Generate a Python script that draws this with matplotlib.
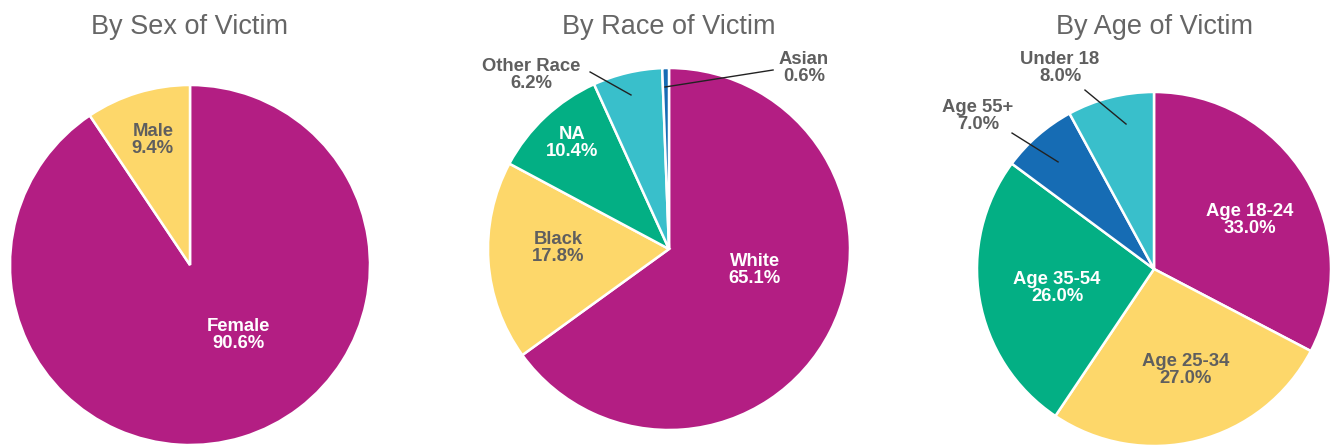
import matplotlib.pyplot as plt

plt.rcParams['font.family'] = ['Liberation Sans', 'DejaVu Sans']

W, H = 1335, 446

# data
sex_labels = ["Female", "Male"]
sex_values = [90.6, 9.4]

race_labels = ["White", "Black", "NA", "Other Race", "Asian"]
race_values = [65.1, 17.8, 10.4, 6.2, 0.6]

age_labels = ["Age 18-24", "Age 25-34", "Age 35-54", "Age 55+", "Under 18"]
age_values = [33.0, 27.0, 26.0, 7.0, 8.0]

MAGENTA = "#B31E83"
YELLOW = "#FDD76A"
GREEN = "#03AF84"
TEAL = "#39BFCB"
BLUE = "#166CB4"
GRAY = "#5F5F5F"

# label placement in pie units (radius = 1): text pos, leader line (start, end) or None
sex_pos = [((0.267, -0.389), None), ((-0.206, 0.694), None)]
race_pos = [((0.475, -0.116), None),
            ((-0.613, 0.006), None),
            ((-0.536, 0.586), None),
            ((-0.762, 0.961), ((-0.436, 0.978), (-0.21, 0.851))),
            ((0.746, 1.0), ((0.575, 0.989), (-0.022, 0.895)))]
age_pos = [((0.542, 0.277), None),
           ((0.181, -0.571), None),
           ((-0.548, -0.107), None),
           ((-0.994, 0.864), ((-0.802, 0.768), (-0.542, 0.605))),
           ((-0.531, 1.136), ((-0.39, 1.011), (-0.158, 0.819)))]

charts = [
    ("By Sex of Victim", sex_labels, sex_values, [MAGENTA, YELLOW],
     ["white", GRAY], sex_pos, (190, 265, 180)),
    ("By Race of Victim", race_labels, race_values, [MAGENTA, YELLOW, GREEN, TEAL, BLUE],
     ["white", GRAY, "white", GRAY, GRAY], race_pos, (669, 249, 181)),
    ("By Age of Victim", age_labels, age_values, [MAGENTA, YELLOW, GREEN, BLUE, TEAL],
     ["white", GRAY, "white", GRAY, GRAY], age_pos, (1154, 269, 177)),
]

fig = plt.figure(figsize=(W / 100, H / 100), dpi=100)

for title, labels, values, colors, tcolors, pos, (cx, cy, r) in charts:
    ax = fig.add_axes([(cx - r) / W, (H - cy - r) / H, 2 * r / W, 2 * r / H])
    ax.pie(values, colors=colors, startangle=90, counterclock=False, radius=1,
           wedgeprops=dict(edgecolor="white", linewidth=1.8))
    ax.set_xlim(-1, 1)
    ax.set_ylim(-1, 1)
    ax.set_aspect("equal")
    ax.axis("off")
    for lab, val, tc, (xy, line) in zip(labels, values, tcolors, pos):
        ax.text(xy[0], xy[1], "{}\n{:.1f}%".format(lab, val), ha="center", va="center",
                fontsize=13.3, fontweight="bold", color=tc, linespacing=1.0, clip_on=False)
        if line is not None:
            ax.plot([line[0][0], line[1][0]], [line[0][1], line[1][1]],
                    color="#222222", lw=1.0, clip_on=False)
    fig.text(cx / W, 1 - 26.5 / H, title, ha="center", va="center",
             fontsize=19.5, color="#666666")

fig.savefig("out.png", dpi=100)
